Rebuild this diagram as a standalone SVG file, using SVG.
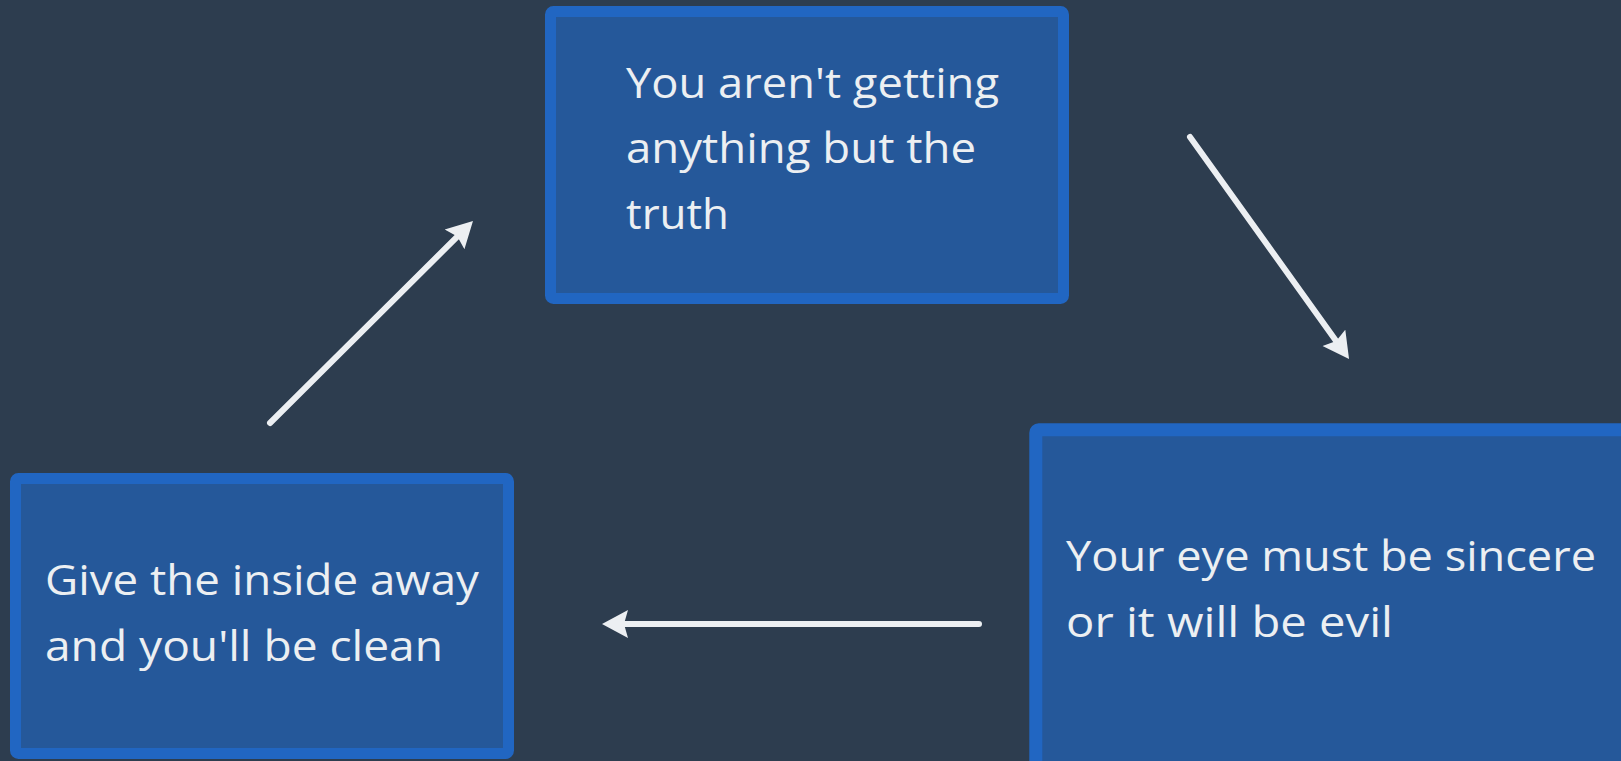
<svg xmlns="http://www.w3.org/2000/svg" width="1621" height="761" viewBox="0 0 1621 761">
<style>
.box{fill:#25589a;stroke:#2166c2;stroke-width:11}
.lbl{fill:#eceff2;font-family:"Open Sans","Noto Sans",sans-serif;font-size:42px}
.edge{stroke:#eceff2;stroke-width:6;fill:none;stroke-linecap:round;marker-end:url(#ah)}
</style>
<defs>
<marker id="ah" markerUnits="userSpaceOnUse" viewBox="0 -15 27 30" markerWidth="27" markerHeight="30" refX="6" refY="0" orient="auto">
<path d="M0,-14 L26,0 L0,14 L4,0 Z" fill="#eceff2"/>
</marker>
</defs>
<rect width="1621" height="761" fill="#2d3d4f"/>
<g id="connectors">
<line class="edge" x1="270" y1="423" x2="458.8" y2="235.1"/>
<line class="edge" x1="1190" y1="137" x2="1337.4" y2="342.7"/>
<line class="edge" x1="979" y1="624" x2="622" y2="624"/>
</g>
<g id="node-truth">
<rect class="box" x="550.5" y="11.5" width="513" height="287" rx="3"/>
<text class="lbl" x="626" y="98" textLength="373" lengthAdjust="spacingAndGlyphs">You aren't getting</text>
<text class="lbl" x="626" y="163" textLength="350" lengthAdjust="spacingAndGlyphs">anything but the</text>
<text class="lbl" x="626" y="229" textLength="103" lengthAdjust="spacingAndGlyphs">truth</text>
</g>
<g id="node-eye">
<rect class="box" x="1035.8" y="429.8" width="700" height="400" rx="3" style="stroke-width:13"/>
<text class="lbl" x="1066" y="571" textLength="530" lengthAdjust="spacingAndGlyphs">Your eye must be sincere</text>
<text class="lbl" x="1066" y="637" textLength="327" lengthAdjust="spacingAndGlyphs">or it will be evil</text>
</g>
<g id="node-give">
<rect class="box" x="15.5" y="478.5" width="493" height="275" rx="3"/>
<text class="lbl" x="45" y="595" textLength="434" lengthAdjust="spacingAndGlyphs">Give the inside away</text>
<text class="lbl" x="45" y="661" textLength="398" lengthAdjust="spacingAndGlyphs">and you'll be clean</text>
</g>
</svg>
